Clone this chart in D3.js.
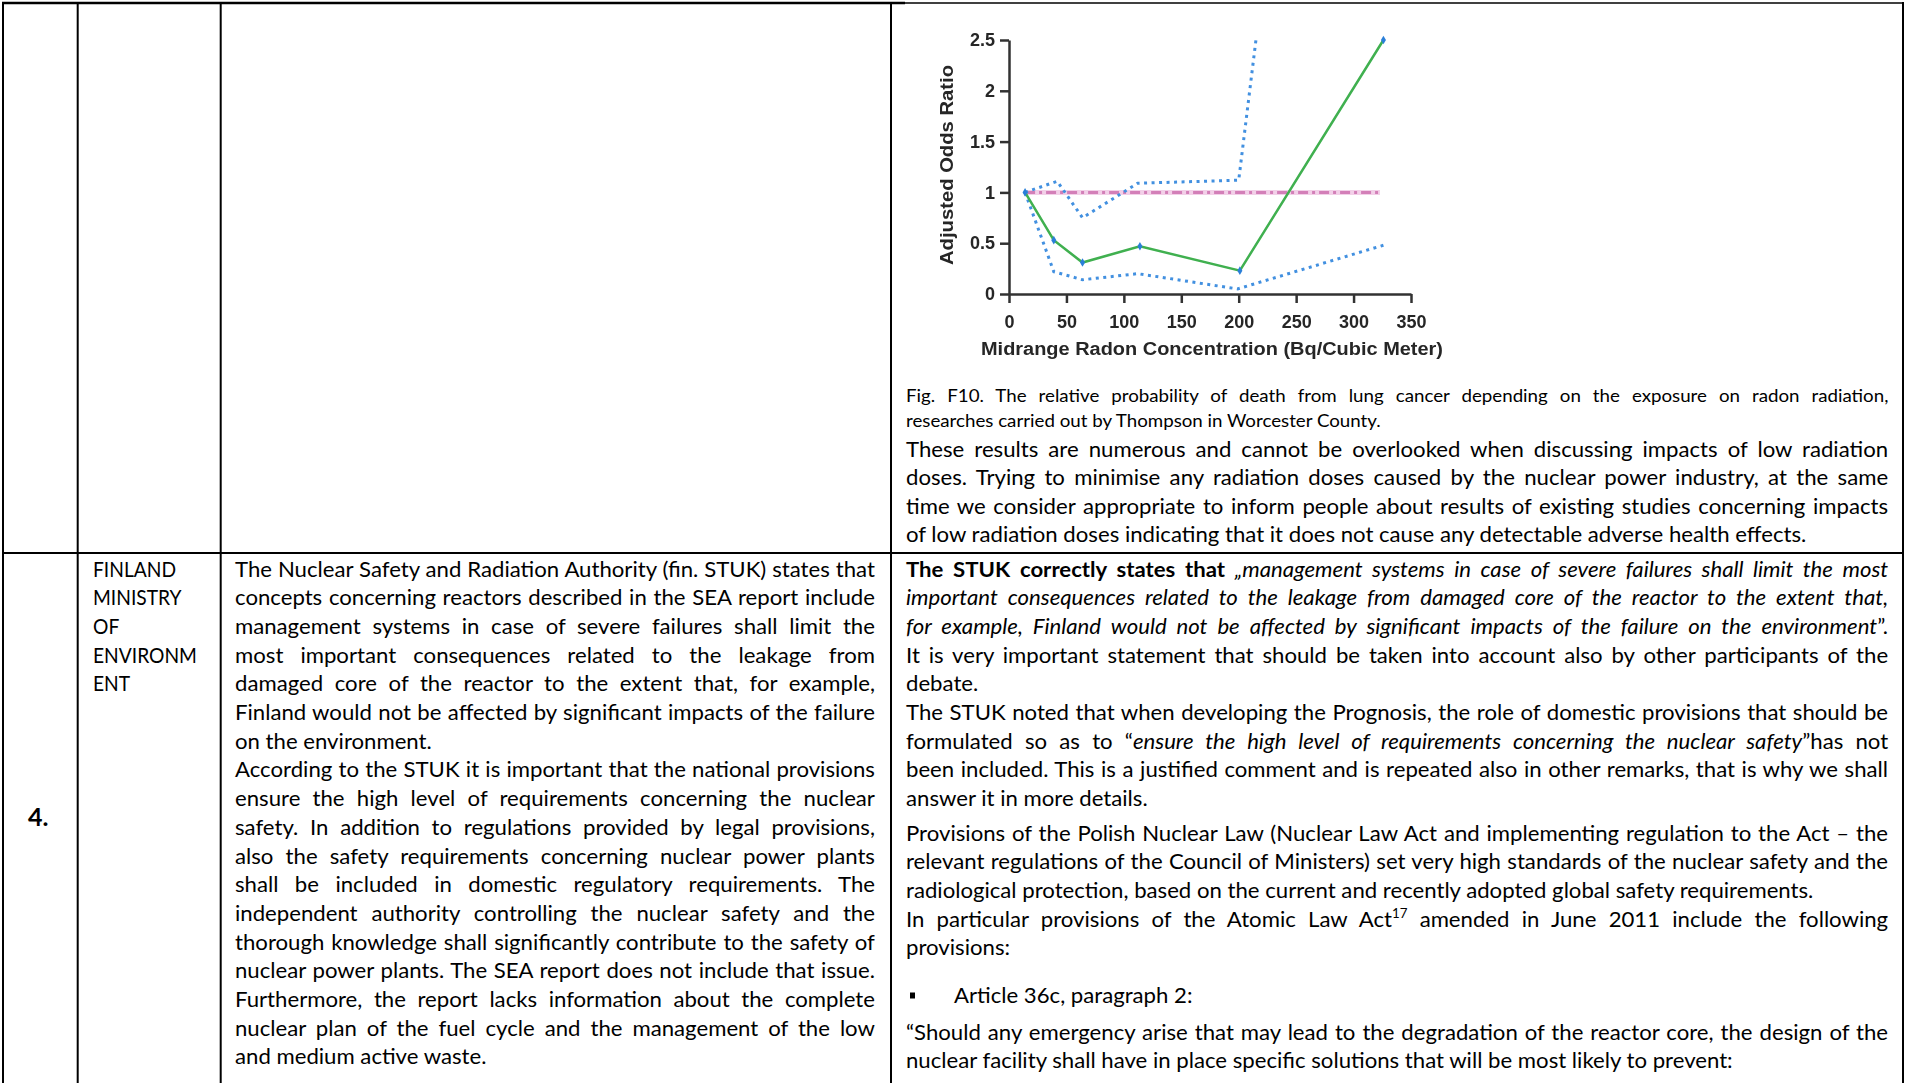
<!DOCTYPE html>
<html>
<head>
<meta charset="utf-8">
<script src="https://d3js.org/d3.v7.min.js"></script>
<style>
  body { margin: 0; background: #fff; }
  svg { display: block; }
</style>
</head>
<body>
<svg id="page" width="1905" height="1083"></svg>
<script>
// values
const radonX    = [14, 39, 64, 114, 201, 326];
const oddsRatio = [1, 0.53, 0.31, 0.47, 0.23, 2.5];
const upperX    = [14, 42, 64, 112, 200, 215];
const upperCI   = [1, 1.11, 0.75, 1.09, 1.12, 2.5];
const lowerX    = [14, 39, 64, 112, 199, 326];
const lowerCI   = [1, 0.22, 0.14, 0.2, 0.05, 0.48];
const refX      = [14, 323];
const refY      = [1, 1];
const xTicks = [0, 50, 100, 150, 200, 250, 300, 350];
const yTicks = [0, 0.5, 1, 1.5, 2, 2.5];
const xTitle = "Midrange Radon Concentration (Bq/Cubic Meter)";
const yTitle = "Adjusted Odds Ratio";

// document text, line by line (j = justified line)
const captionLines = [
  {t: "Fig. F10. The relative probability of death from lung cancer depending on the exposure on radon radiation,", j: 1},
  {t: "researches carried out by Thompson in Worcester County.", j: 0}
];
const topLines = [
  {t: "These results are numerous and cannot be overlooked when discussing impacts of low radiation", j: 1},
  {t: "doses. Trying to minimise any radiation doses caused by the nuclear power industry, at the same", j: 1},
  {t: "time we consider appropriate to inform people about results of existing studies concerning impacts", j: 1},
  {t: "of low radiation doses indicating that it does not cause any detectable adverse health effects.", j: 0}
];
const rowNumber = "4.";
const authorLines = ["FINLAND", "MINISTRY", "OF", "ENVIRONM", "ENT"];
const remarkLines = [
  {t: "The Nuclear Safety and Radiation Authority (fin. STUK) states that", j: 1},
  {t: "concepts concerning reactors described in the SEA report include", j: 1},
  {t: "management systems in case of severe failures shall limit the", j: 1},
  {t: "most important consequences related to the leakage from", j: 1},
  {t: "damaged core of the reactor to the extent that, for example,", j: 1},
  {t: "Finland would not be affected by significant impacts of the failure", j: 1},
  {t: "on the environment.", j: 0},
  {t: "According to the STUK it is important that the national provisions", j: 1},
  {t: "ensure the high level of requirements concerning the nuclear", j: 1},
  {t: "safety. In addition to regulations provided by legal provisions,", j: 1},
  {t: "also the safety requirements concerning nuclear power plants", j: 1},
  {t: "shall be included in domestic regulatory requirements. The", j: 1},
  {t: "independent authority controlling the nuclear safety and the", j: 1},
  {t: "thorough knowledge shall significantly contribute to the safety of", j: 1},
  {t: "nuclear power plants. The SEA report does not include that issue.", j: 1},
  {t: "Furthermore, the report lacks information about the complete", j: 1},
  {t: "nuclear plan of the fuel cycle and the management of the low", j: 1},
  {t: "and medium active waste.", j: 0}
];
const answerLines = [
  {t: "<b>The STUK correctly states that </b><i>„management systems in case of severe failures shall limit the most</i>", j: 1},
  {t: "<i>important consequences related to the leakage from damaged core of the reactor to the extent that,</i>", j: 1},
  {t: "<i>for example, Finland would not be affected by significant impacts of the failure on the environment</i>”.", j: 1},
  {t: "It is very important statement that should be taken into account also by other participants of the", j: 1},
  {t: "debate.", j: 0},
  {t: "The STUK noted that when developing the Prognosis, the role of domestic provisions that should be", j: 1},
  {t: "formulated so as to “<i>ensure the high level of requirements concerning the nuclear safety</i>”has not", j: 1},
  {t: "been included. This is a justified comment and is repeated also in other remarks, that is why we shall", j: 1},
  {t: "answer it in more details.", j: 0},
  {t: "Provisions of the Polish Nuclear Law (Nuclear Law Act and implementing regulation to the Act – the", j: 1},
  {t: "relevant regulations of the Council of Ministers) set very high standards of the nuclear safety and the", j: 1},
  {t: "radiological protection, based on the current and recently adopted global safety requirements.", j: 0},
  {t: "In particular provisions of the Atomic Law Act<sup>17</sup> amended in June 2011 include the following", j: 1},
  {t: "provisions:", j: 0},
  {t: "Article 36c, paragraph 2:", j: 0, bullet: 1},
  {t: "“Should any emergency arise that may lead to the degradation of the reactor core, the design of the", j: 1},
  {t: "nuclear facility shall have in place specific solutions that will be most likely to prevent:", j: 0}
];

const svg = d3.select("#page");
svg.append("rect").attr("width", 1905).attr("height", 1083).attr("fill", "#fff");
svg.append("defs").append("filter").attr("id", "soft")
  .append("feGaussianBlur").attr("stdDeviation", 0.6);

const BODY = "Lato, 'Noto Sans', 'DejaVu Sans', sans-serif";
const CHART = "'Liberation Sans', Arial, sans-serif";
const bodySize = 21, capSize = 17.5;

function runs(str) {
  return str.split(/(<b>.*?<\/b>|<i>.*?<\/i>|<sup>.*?<\/sup>)/).filter(s => s).map(s => {
    const m = s.match(/^<(b|i|sup)>(.*)<\/\1>$/);
    return m ? {t: m[2], s: m[1]} : {t: s, s: null};
  });
}
const plain = str => str.replace(/<\/?(b|i|sup)>/g, "");

function build(g, str, size) {
  const t = g.append("text").attr("font-family", BODY).attr("font-size", size).attr("fill", "#000");
  let lift = 0;
  runs(str).forEach(r => {
    const ts = t.append("tspan").text(r.t);
    if (r.s === "b") ts.attr("font-weight", 700);
    if (r.s === "i") ts.attr("font-style", "italic");
    if (r.s === "sup") { ts.attr("font-size", size * 0.6).attr("dy", -size * 0.4); lift = size * 0.4; }
    else if (lift) { ts.attr("dy", lift); lift = 0; }
  });
  return t;
}
function measure(str, size) {
  const t = build(svg, str, size);
  const w = t.node().getComputedTextLength();
  t.remove();
  return w;
}
function setLine(g, line, x0, x1, y, size, k) {
  const t = build(g, line.t, size);
  const w = t.node().getComputedTextLength();
  const n = (plain(line.t).match(/ /g) || []).length;
  if (line.j && n) t.style("word-spacing", ((x1 - x0) / k - w) / n + "px");
  t.attr("transform", `translate(${x0},${y}) scale(${k},1)`);
}

// horizontal squeeze so the substitute font takes the width of the original one
const calib = [["answer it in more details.", 247], ["provisions:", 104], ["Article 36c, paragraph 2:", 237], ["debate.", 69]];
const k = d3.sum(calib, c => c[1]) / d3.sum(calib, c => measure(c[0], bodySize));
const kc = 475 / measure(captionLines[1].t, capSize);
const ka = 104 / measure("ENVIRONM", bodySize);

const textG = svg.append("g");

// top row, right cell
captionLines.forEach((l, i) => setLine(textG, l, 906, 1889, 401.5 + 25.5 * i, capSize, kc));
topLines.forEach((l, i) => setLine(textG, l, 906, 1889, 456.5 + 28.5 * i, bodySize, k));

// second row
textG.append("text").attr("x", 28).attr("y", 826)
  .attr("font-family", BODY).attr("font-size", 25).attr("font-weight", 700).text(rowNumber);
authorLines.forEach((s, i) => setLine(textG, {t: s, j: 0}, 93, 210, 576.5 + 28.7 * i, bodySize, ka));
remarkLines.forEach((l, i) => setLine(textG, l, 235, 875.5, 576.5 + 28.7 * i, bodySize, k));

function answerBase(i) {
  if (i <= 8) return 576.5 + 28.7 * i;
  if (i <= 13) return 840.5 + 28.7 * (i - 9);
  return [1002.5, 1040, 1068][i - 14];
}
answerLines.forEach((l, i) => {
  const y = answerBase(i);
  if (l.bullet) {
    textG.append("rect").attr("x", 910).attr("y", y - 10).attr("width", 5).attr("height", 6).attr("fill", "#000");
    setLine(textG, l, 954, 1889, y, bodySize, k);
  } else {
    setLine(textG, l, 906, 1889, y, bodySize, k);
  }
});

// table rules
const rules = svg.append("g").attr("stroke", "#000");
rules.append("line").attr("x1", 2).attr("x2", 905).attr("y1", 3).attr("y2", 3).attr("stroke-width", 2.5);
rules.append("line").attr("x1", 905).attr("x2", 1904).attr("y1", 3).attr("y2", 3).attr("stroke-width", 1.6);
rules.append("line").attr("x1", 2).attr("x2", 1904).attr("y1", 553).attr("y2", 553).attr("stroke-width", 2);
[3, 77.7, 220.7, 891, 1903].forEach(xv =>
  rules.append("line").attr("x1", xv).attr("x2", xv).attr("y1", 2).attr("y2", 1083).attr("stroke-width", 2));

// the chart
const x = d3.scaleLinear().domain([0, 350]).range([1009, 1411]);
const y = d3.scaleLinear().domain([0, 2.5]).range([294, 40]);
const chart = svg.append("g").attr("filter", "url(#soft)");

const xAxis = chart.append("g").attr("transform", `translate(0,${y(0)})`)
  .call(d3.axisBottom(x).tickValues(xTicks).tickSize(9).tickPadding(12).tickSizeOuter(0));
const yAxis = chart.append("g").attr("transform", `translate(${x(0)},0)`)
  .call(d3.axisLeft(y).tickValues(yTicks).tickFormat(d => String(d)).tickSize(9).tickPadding(5).tickSizeOuter(0));
[xAxis, yAxis].forEach(a => {
  a.selectAll("path, line").attr("stroke", "#333").attr("stroke-width", 2.5);
  a.selectAll("text").attr("font-family", CHART)
    .attr("font-size", 18).attr("font-weight", 700).attr("fill", "#262626");
});

const line = d3.line().x(d => x(d[0])).y(d => y(d[1]));
const ref = d3.zip(refX, refY);
chart.append("path").attr("d", line(ref)).attr("fill", "none")
  .attr("stroke", "#f2d0e8").attr("stroke-width", 5);
chart.append("path").attr("d", line(ref)).attr("fill", "none")
  .attr("stroke", "#d37fb8").attr("stroke-width", 3).attr("stroke-dasharray", "10,4,3,4");

[d3.zip(upperX, upperCI), d3.zip(lowerX, lowerCI)].forEach(pts => {
  chart.append("path").attr("d", line(pts)).attr("fill", "none")
    .attr("stroke", "#4290e0").attr("stroke-width", 3).attr("stroke-dasharray", "3,4.5");
});

const est = d3.zip(radonX, oddsRatio);
chart.append("path").attr("d", line(est)).attr("fill", "none")
  .attr("stroke", "#3fb04f").attr("stroke-width", 2.5);
chart.selectAll(".mk").data(est).join("path").attr("class", "mk")
  .attr("transform", d => `translate(${x(d[0])},${y(d[1])})`)
  .attr("d", d3.symbol(d3.symbolDiamond, 22)).attr("fill", "#2c7fd8");

chart.append("text").attr("x", 981).attr("y", 354.5)
  .attr("textLength", 462).attr("lengthAdjust", "spacingAndGlyphs")
  .attr("font-family", CHART).attr("font-size", 18).attr("font-weight", 700)
  .attr("fill", "#262626").text(xTitle);
chart.append("text").attr("transform", "translate(953,265) rotate(-90)")
  .attr("textLength", 200).attr("lengthAdjust", "spacingAndGlyphs")
  .attr("font-family", CHART).attr("font-size", 18).attr("font-weight", 700)
  .attr("fill", "#262626").text(yTitle);
</script>
</body>
</html>
